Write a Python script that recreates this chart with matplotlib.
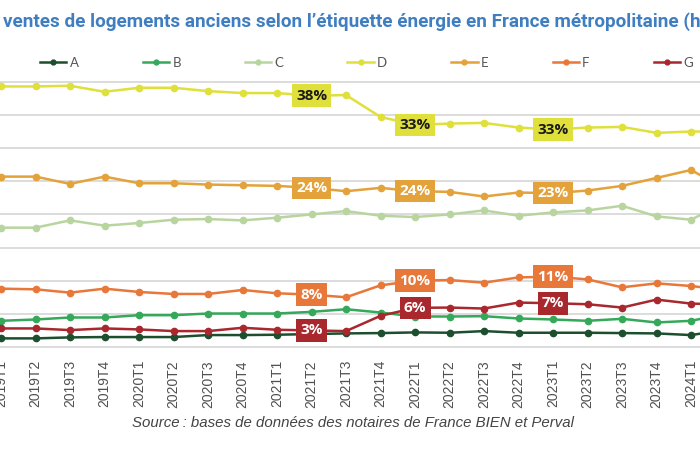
import matplotlib
matplotlib.use("Agg")
import matplotlib.pyplot as plt
from matplotlib.lines import Line2D

# quarters (the last one is only partly in the frame)
quarters = ["2019T1", "2019T2", "2019T3", "2019T4", "2020T1", "2020T2",
            "2020T3", "2020T4", "2021T1", "2021T2", "2021T3", "2021T4",
            "2022T1", "2022T2", "2022T3", "2022T4", "2023T1", "2023T2",
            "2023T3", "2023T4", "2024T1", "2024T2"]

# share of sales per energy label (%)
cls_a = [1.3, 1.3, 1.45, 1.5, 1.5, 1.5, 1.8, 1.8, 1.85, 1.95, 2.05, 2.1,
         2.2, 2.15, 2.4, 2.15, 2.15, 2.15, 2.1, 2.05, 1.8, 2.6]
cls_b = [3.95, 4.15, 4.45, 4.45, 4.8, 4.8, 5.05, 5.05, 5.05, 5.3, 5.7, 5.2,
         4.6, 4.6, 4.65, 4.3, 4.15, 3.95, 4.25, 3.7, 3.95, 5.0]
cls_c = [18.0, 18.0, 19.1, 18.3, 18.7, 19.2, 19.3, 19.1, 19.5, 20.0, 20.5,
         19.8, 19.6, 20.0, 20.6, 19.8, 20.3, 20.6, 21.3, 19.7, 19.2, 21.8]
cls_d = [39.3, 39.3, 39.4, 38.5, 39.1, 39.1, 38.6, 38.3, 38.3, 37.9, 38.0,
         34.7, 33.5, 33.7, 33.8, 33.1, 32.8, 33.1, 33.2, 32.3, 32.5, 32.5]
cls_e = [25.7, 25.7, 24.6, 25.7, 24.7, 24.7, 24.5, 24.4, 24.3, 24.0, 23.5,
         24.0, 23.5, 23.4, 22.7, 23.3, 23.2, 23.6, 24.3, 25.5, 26.7, 23.8]
cls_f = [8.8, 8.7, 8.2, 8.8, 8.3, 8.0, 8.0, 8.6, 8.1, 7.9, 7.5, 9.3, 10.0,
         10.1, 9.7, 10.5, 10.6, 10.2, 9.0, 9.6, 9.2, 8.6]
cls_g = [2.8, 2.8, 2.55, 2.8, 2.65, 2.4, 2.4, 2.9, 2.6, 2.5, 2.4, 4.7, 5.9,
         5.95, 5.8, 6.7, 6.6, 6.45, 5.95, 7.15, 6.55, 6.4]

names = ["A", "B", "C", "D", "E", "F", "G"]
series = [cls_a, cls_b, cls_c, cls_d, cls_e, cls_f, cls_g]
colors = ["#1d4f2f", "#35a85a", "#b9d59f", "#dfe03c", "#e3a23a", "#e8773a", "#a8282e"]

# labelled points: class, quarter index, text
callouts = [("D", 9, "38%"), ("D", 12, "33%"), ("D", 16, "33%"),
            ("E", 9, "24%"), ("E", 12, "24%"), ("E", 16, "23%"),
            ("F", 9, "8%"), ("F", 12, "10%"), ("F", 16, "11%"),
            ("G", 9, "3%"), ("G", 12, "6%"), ("G", 16, "7%")]

# layout in pixels of the 700x450 frame
W, H = 700, 450
zero_px, unit_px = 347, 6.63
ymin, ymax = -0.4, 41

fig = plt.figure(figsize=(7, 4.5), dpi=100)
bottom_px = zero_px - ymin * unit_px
top_px = zero_px - ymax * unit_px
ax = fig.add_axes([0, 1 - bottom_px / H, 1, (bottom_px - top_px) / H])

ax.set_yticks(range(0, 45, 5))
ax.yaxis.grid(True, color="#d9d9d9", lw=1.3)
ax.set_axisbelow(True)
for s in ax.spines.values():
    s.set_visible(False)
ax.tick_params(left=False, labelleft=False, bottom=False, pad=4)
ax.set_xticks(range(len(quarters)))
ax.set_xticklabels(quarters, rotation=90, fontsize=10, color="#505050",
                   family=["Liberation Sans", "DejaVu Sans"])

x = list(range(len(quarters)))
for name, vals, col in zip(names, series, colors):
    ax.plot(x, vals, color=col, lw=1.8, marker="o", ms=4.5, label=name,
            zorder=3)

for name, i, txt in callouts:
    k = names.index(name)
    val = series[k][i]
    tc = "#1a1a1a" if name == "D" else "white"
    ax.text(i, val, txt, ha="center", va="center", fontsize=11,
            fontweight="bold", color=tc, family=["Open Sans", "DejaVu Sans"],
            zorder=5,
            bbox=dict(boxstyle="square,pad=0.28", fc=colors[k], ec="none"))

# set limits last: set_xticks widens the view
ax.set_xlim(-0.03, 20.26)
ax.set_ylim(ymin, ymax)

# legend across the top
handles = [Line2D([], [], color=c, lw=1.8, marker="o", ms=3.5) for c in colors]
fig.legend(handles, names, ncol=7, loc="center left",
           bbox_to_anchor=(40 / W, 1 - 63 / H), frameon=False,
           borderpad=0, borderaxespad=0, handlelength=2.0,
           handletextpad=0.25, columnspacing=4.85,
           prop=dict(family=["Lato", "DejaVu Sans"], size=9.5),
           labelcolor="#555555")

# title, cropped on both sides in the source
title = fig.text(3 / W, 1 - 22 / H,
                 "ventes de logements anciens selon l\u2019étiquette énergie en France métropolitaine (h",
                 ha="left", va="center", fontsize=15, fontweight="bold",
                 color="#3f7fc1", family=["Liberation Sans Narrow", "Roboto", "DejaVu Sans"])
fig.canvas.draw()
w = title.get_window_extent().width
title.set_fontsize(15 * 703 / w)

fig.text(353 / W, 1 - 423 / H,
         "Source\u202f: bases de données des notaires de France BIEN et Perval",
         ha="center", va="center", fontsize=10.8, style="italic",
         color="#444444", family=["Liberation Sans", "DejaVu Sans"])

fig.savefig("out.png", dpi=100)
